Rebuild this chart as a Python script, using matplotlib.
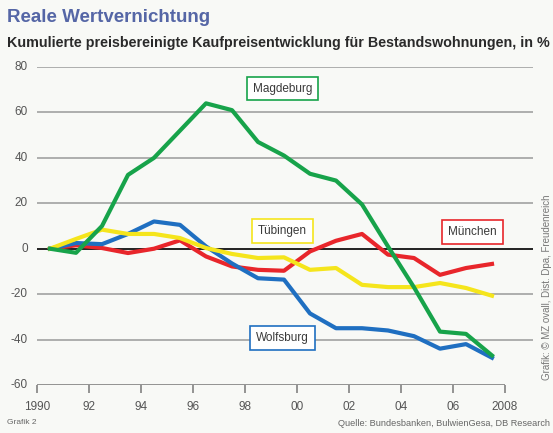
import numpy as np
import matplotlib
matplotlib.use('Agg')
import matplotlib.pyplot as plt

# ── data (cumulative real price change, %) ────────────────────────────────────
years = np.arange(1990, 2008) + 0.5
magdeburg = [0, -1.8, 10, 32.5, 40, 52, 64, 61, 47, 41, 33, 30, 19.5, 1, -17, -36.5, -37.5, -47]
wolfsburg = [0, 2.5, 2, 6.5, 12, 10.5, 1, -6.5, -13, -13.6, -28.5, -35, -35, -36, -38.5, -44, -42, -48]
muenchen  = [0, 1.5, 0.3, -1.9, 0, 3.7, -3.4, -7.8, -9.3, -9.7, -1.2, 3.5, 6.5, -2.6, -4.1, -11.5, -8.5, -6.7]
tuebingen = [0, 4.3, 8.4, 6.5, 6.5, 4.7, 0.3, -2.3, -4.1, -3.8, -9.3, -8.5, -15.9, -16.9, -16.9, -15.1, -17.3, -20.7]

xticks = [1990, 1992, 1994, 1996, 1998, 2000, 2002, 2004, 2006, 2008]
xticklabels = ['1990', '92', '94', '96', '98', '00', '02', '04', '06', '2008']
yticks = [80, 60, 40, 20, 0, -20, -40, -60]

GREEN  = '#17a34a'
BLUE   = '#1f6fc1'
RED    = '#e8262b'
YELLOW = '#f5e51c'
BG     = '#f8f9f6'
TXT    = '#3a3a3a'

plt.rcParams['font.family'] = ['Liberation Sans', 'DejaVu Sans']

fig = plt.figure(figsize=(5.53, 4.33), dpi=100, facecolor=BG)
ax = fig.add_axes([37/553, 1 - 385/433, 496/553, 318/433], facecolor=BG)

# gridlines
for v in yticks[:-1]:
    ax.axhline(v, color='#111111' if v == 0 else '#9a9a9a', lw=1.3 if v == 0 else 1.1, zorder=1)
ax.hlines(-60, 1990, 2008, color='#777777', lw=1.1, zorder=1)
for t in xticks:
    ax.vlines(t, -63.5, -60, color='#777777', lw=1.1, clip_on=False)

# series
ax.plot(years, muenchen, color=RED, lw=3, zorder=3)
ax.plot(years, wolfsburg, color=BLUE, lw=3, zorder=4)
ax.plot(years, tuebingen, color=YELLOW, lw=3, zorder=5)
ax.plot(years, magdeburg, color=GREEN, lw=3, zorder=6)

# labels in boxes
def tag(x, y, s, c):
    ax.text(x, y, s, ha='center', va='center', fontsize=8.5, color=TXT, zorder=7,
            bbox=dict(boxstyle='square,pad=0.5', fc='white', ec=c, lw=1.2))

tag(1999.45, 70.5, 'Magdeburg', GREEN)
tag(1999.45, 7.8, 'Tübingen', YELLOW)
tag(2006.75, 7.5, 'München', RED)
tag(1999.45, -39.3, 'Wolfsburg', BLUE)

ax.set_xlim(1990, 1990 + 496/26)
ax.set_ylim(-60, 80)
for s in ax.spines.values():
    s.set_visible(False)
ax.set_xticks([]); ax.set_yticks([])
for t, l in zip(xticks, xticklabels):
    ax.text(t, -69.5, l, ha='center', va='center', fontsize=8.5, color='#555555', clip_on=False)
for v in yticks:
    ax.text(1989.65, v, str(v), ha='right', va='center', fontsize=8.5, color='#555555', clip_on=False)

# titles and notes
fig.text(7/553, 1 - 18/433, 'Reale Wertvernichtung', fontsize=13.5, fontweight='bold',
         color='#5566a6', ha='left', va='center')
fig.text(7/553, 1 - 43/433, 'Kumulierte preisbereinigte Kaufpreisentwicklung für Bestandswohnungen, in %',
         fontsize=10.3, fontweight='bold', color='#2a2a2a', ha='left', va='center')
fig.text(7/553, 1 - 422/433, 'Grafik 2', fontsize=6, color='#666666', ha='left', va='center')
fig.text(550/553, 1 - 424/433, 'Quelle: Bundesbanken, BulwienGesa, DB Research', fontsize=6.6,
         color='#666666', ha='right', va='center')
fig.text(547/553, 1 - 287/433, 'Grafik: © MZ ovall, Dist. Dpa, Freudenreich', fontsize=7,
         color='#777777', rotation=90, ha='center', va='center')

fig.savefig('out.png', dpi=100, facecolor=BG)
